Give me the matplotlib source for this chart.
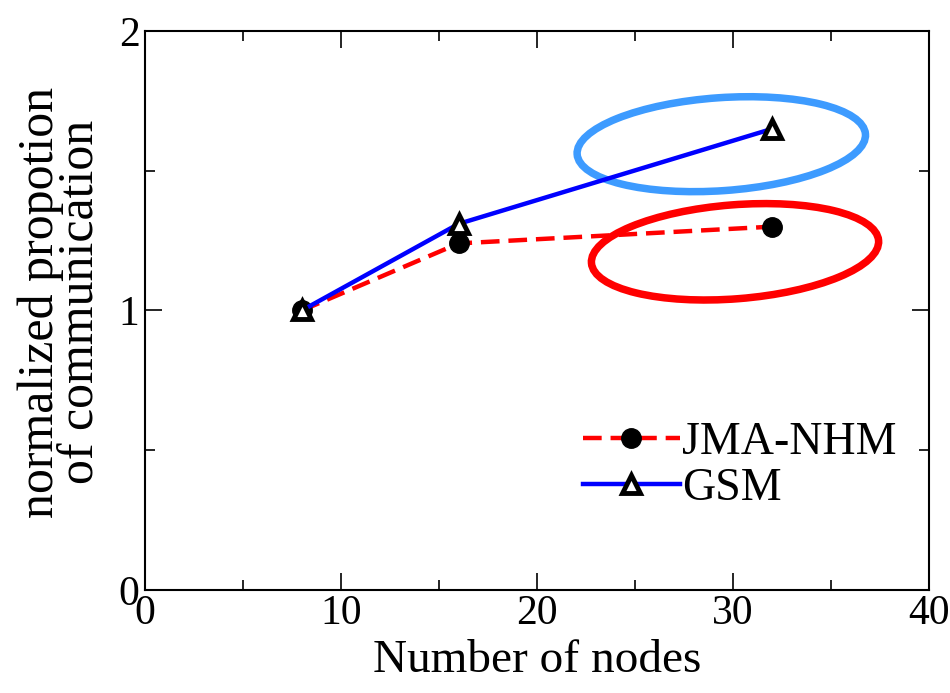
import matplotlib
matplotlib.use("Agg")
import matplotlib.pyplot as plt
from matplotlib.patches import Ellipse
from matplotlib.transforms import ScaledTranslation
from matplotlib.ticker import MultipleLocator

plt.rcParams["font.family"] = ["Liberation Serif", "DejaVu Serif"]

nodes = [8, 16, 32]
jma_nhm = [1.0, 1.24, 1.30]
gsm = [1.0, 1.31, 1.65]

# highlight ellipses: centre (data), size (inches), angle (deg)
ellipses = [
    ((29.4, 1.595), 2.89, 0.93, 4, "#3d9bff"),
    ((30.1, 1.21), 2.88, 0.94, 4.5, "#ff0000"),
]

tick_size = 30
label_size = 34
legend_size = 33

fig = plt.figure(figsize=(9.5, 6.93), dpi=100)
ax = fig.add_axes([0.1526, 0.1486, 0.8254, 0.8067])

ax.plot(nodes, jma_nhm, color="#ff0000", linestyle=(0, (4.2, 2.0)), linewidth=3.2,
        marker="o", markersize=14, markerfacecolor="black", markeredgecolor="black",
        label="JMA-NHM", zorder=3)
ax.plot(nodes, gsm, color="#0000ff", linewidth=3.2,
        marker="^", markersize=13, markerfacecolor="white", markeredgecolor="black",
        markeredgewidth=3.5, label="GSM", zorder=4)

for (cx, cy), w, h, ang, col in ellipses:
    tr = fig.dpi_scale_trans + ScaledTranslation(cx, cy, ax.transData)
    e = Ellipse((0, 0), w, h, angle=ang, transform=tr, fill=False,
                edgecolor=col, linewidth=5.4, zorder=2)
    ax.add_patch(e)

ax.set_xlim(0, 40)
ax.set_ylim(0, 2)
ax.xaxis.set_major_locator(MultipleLocator(10))
ax.xaxis.set_minor_locator(MultipleLocator(5))
ax.yaxis.set_major_locator(MultipleLocator(1))
ax.yaxis.set_minor_locator(MultipleLocator(0.5))
ax.tick_params(which="both", direction="in", top=True, right=True, width=1.2)
ax.tick_params(which="major", length=12, labelsize=tick_size, pad=3)
ax.tick_params(which="minor", length=7)
ax.tick_params(axis="y", pad=4)
for s in ax.spines.values():
    s.set_linewidth(1.5)

ax.set_xlabel("Number of nodes", fontsize=label_size, labelpad=5)
ax.set_ylabel("normalized propotion\nof communication", fontsize=36,
              linespacing=0.82)
ax.yaxis.set_label_coords(-0.052, 0.515)

ax.legend(loc="upper left", bbox_to_anchor=(0.559, 0.302), frameon=False,
          fontsize=legend_size, handlelength=2.1, handletextpad=0.05,
          borderpad=0, borderaxespad=0, labelspacing=0.08)

fig.savefig("out.png", dpi=100)
